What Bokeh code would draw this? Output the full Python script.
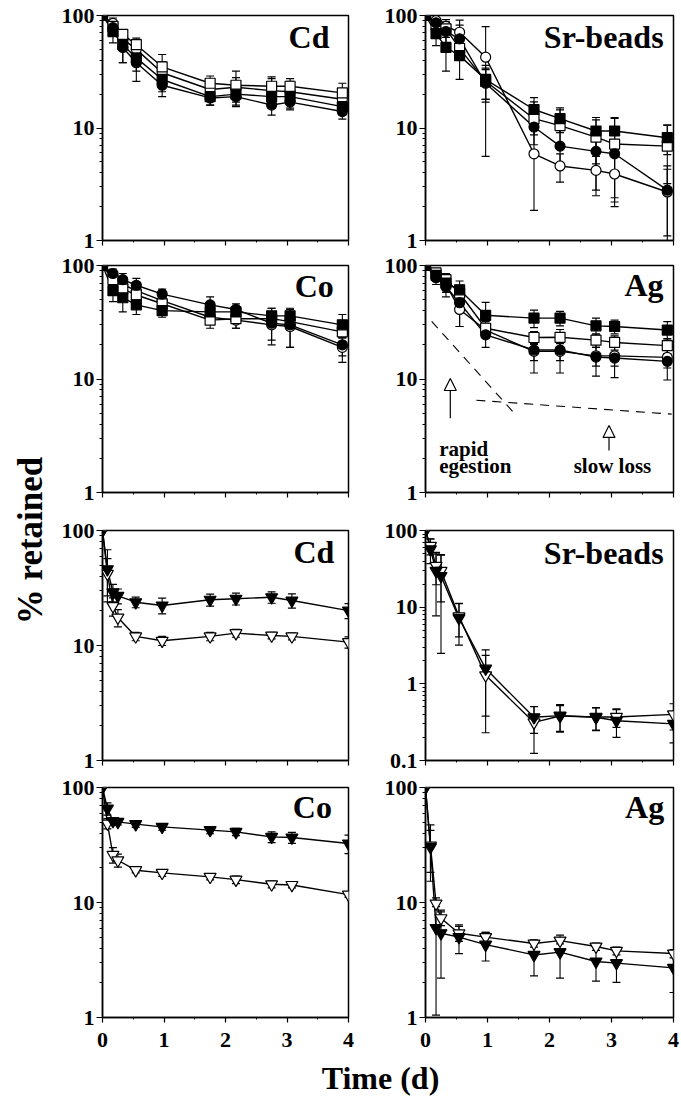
import math
from bokeh.plotting import figure
from bokeh.models import (FixedTicker, Whisker, TeeHead, ColumnDataSource, Label,
                          Arrow, NormalHead, Range1d)
from bokeh.layouts import row, column
from bokeh.embed import file_html
from bokeh.resources import INLINE

# ---------------- data ----------------
t_top = [0, 0.17, 0.33, 0.55, 0.97, 1.75, 2.17, 2.75, 3.05, 3.9]
t_bot = [0, 0.08, 0.17, 0.25, 0.54, 0.97, 1.75, 2.17, 2.75, 3.08, 4.0]

# top-left: Cd (four treatments)
cd1_os = [100, 80, 68, 55, 35, 25, 24, 23.5, 23.5, 20.5]
cd1_os_sd = [0, 8, 6, 8, 10, 4, 8, 5, 4, 4.5]
cd1_oc = [100, 85, 62, 50, 31, 22, 23, 21.5, 21, 18]
cd1_oc_sd = [0, 10, 10, 9, 8, 4, 5, 6, 5, 4]
cd1_fs = [100, 72, 55, 42, 27, 19, 20, 19, 19, 15.5]
cd1_fs_sd = [0, 15, 17, 10, 6, 3, 3, 4, 4, 2.5]
cd1_fc = [100, 78, 52, 38, 24, 18.5, 19, 16, 17, 14]
cd1_fc_sd = [0, 12, 14, 12, 5, 2.5, 3.5, 3, 2.5, 2]

# top-right: Sr-beads
sr1_fs = [100, 69, 52, 44, 27, 14.6, 12.1, 9.4, 9.4, 8.2]
sr1_fs_sd = [0, 15, 20, 17, 9, 4, 3, 3, 3, 2.4]
sr1_os = [100, 82, 76, 51, 26, 12.1, 10.5, 8.3, 7.2, 6.9]
sr1_os_sd = [0, 10, 12, 8, 8, 5, 4, 3.5, 5, 3.7]
sr1_fc = [100, 86, 72, 62, 25, 10.2, 6.9, 6.2, 5.9, 2.8]
sr1_fc_sd = [0, 8, 15, 20, 8, 1.5, 2.6, 3.7, 3.5, 1.8]
sr1_oc = [100, 90, 80, 71, 42.6, 5.9, 4.6, 4.2, 3.9, 2.7]
sr1_oc_sd = [0, 10, 12, 20, 37, 4.05, 1.3, 1.4, 1.9, 1.6]

# row 2 left: Co
co1_fc = [100, 85, 75, 67, 56, 45, 41, 31, 30, 20]
co1_fc_sd = [0, 8, 10, 10, 6, 8, 5, 11, 11, 4]
co1_oc = [100, 80, 68, 60, 49, 35, 33, 30, 29, 19]
co1_oc_sd = [0, 10, 8, 8, 6, 4, 5, 8, 10, 5]
co1_fs = [100, 60, 52, 45, 40, 39, 39, 36, 36, 30]
co1_fs_sd = [0, 12, 13, 8, 5, 5, 3, 6, 6, 7]
co1_os = [100, 75, 62, 55, 46, 33, 34, 34, 32, 26]
co1_os_sd = [0, 10, 12, 9, 5, 5, 6, 5, 5, 3]

# row 2 right: Ag
ag1_fs = [100, 82, 70, 61, 36.4, 34.4, 34.4, 29.4, 29, 27]
ag1_fs_sd = [0, 8, 10, 12, 11, 6, 5, 5, 4, 5]
ag1_os = [100, 86, 75, 57, 28, 23.2, 23.3, 22, 21, 19.7]
ag1_os_sd = [0, 8, 10, 10, 4, 3, 4, 3, 3, 3]
ag1_fc = [100, 78, 65, 47, 24.5, 18, 18, 15.6, 15.3, 14.3]
ag1_fc_sd = [0, 10, 12, 18, 5.5, 6.7, 6.7, 5, 5, 4.5]
ag1_oc = [100, 84, 68, 41, 27, 17.5, 17.5, 16, 16, 15.5]
ag1_oc_sd = [0, 9, 10, 12, 4, 3, 3, 3, 3, 3]

# Ag annotation: two loss components and arrows
dash1_t = [0.1, 1.46]
dash1_y = [32.2, 4.8]
dash2_t = [0.82, 3.97]
dash2_y = [6.5, 4.9]
arrow1_t, arrow1_y0, arrow1_y1 = 0.40, 4.5, 10.1
arrow2_t, arrow2_y0, arrow2_y1 = 2.96, 2.35, 3.9

# row 3 left: Cd
cd2_fT = [100, 46, 29, 27, 23.8, 22.3, 25, 25.5, 26.3, 24.6, 20.1]
cd2_fT_sd = [0, 22, 5, 4, 2.5, 3.5, 3, 3, 3, 3.5, 3]
cd2_oT = [100, 42, 22, 17.5, 12, 11, 12, 12.8, 12.2, 12, 10.7]
cd2_oT_sd = [0, 15, 4, 3, 1, 1, 1, 1, 0.8, 0.8, 1.2]

# row 3 right: Sr-beads
sr2_fT = [100, 57, 29.7, 25.5, 7.2, 1.58, 0.366, 0.385, 0.366, 0.33, 0.3]
sr2_fT_sd = [0, 20, 22, 23, 4, 1.2, 0.14, 0.15, 0.12, 0.13, 0.13]
sr2_oT = [100, 63, 34.6, 29.7, 7.6, 1.29, 0.314, 0.38, 0.37, 0.37, 0.4]
sr2_oT_sd = [0, 15, 15, 18, 3.5, 1.06, 0.19, 0.14, 0.12, 0.1, 0.15]

# row 4 left: Co
co2_fT = [100, 65.6, 51, 50.2, 48, 45.5, 42.6, 41.1, 37.2, 36.7, 32.6]
co2_fT_sd = [0, 8, 3, 3, 3, 3, 3, 3, 4, 4, 6]
co2_oT = [100, 48.6, 26, 23.3, 19.1, 18.1, 16.7, 15.8, 14.4, 14.2, 11.7]
co2_oT_sd = [0, 5, 4, 3, 1, 1.2, 1, 1.2, 1, 0.8, 0.6]

# row 4 right: Ag
ag2_fT = [100, 30.3, 6.0, 5.4, 5.0, 4.3, 3.5, 3.7, 3.07, 2.97, 2.7]
ag2_fT_sd = [0, 12, 4.95, 3.2, 1.4, 1.2, 1.2, 1.5, 1.0, 0.95, 1.05]
ag2_oT = [100, 31.3, 9.8, 7.3, 5.4, 5.0, 4.4, 4.66, 4.14, 3.8, 3.6]
ag2_oT_sd = [0, 16, 0.6, 1.0, 0.8, 0.5, 0.3, 0.3, 0.3, 0.3, 0.3]

x_ticks = [0, 1, 2, 3, 4]
x_tick_labels = ["0", "1", "2", "3", "4"]

# ---------------- styling ----------------
FONT = "Liberation Serif"
STYLE = {
    "fs": ("square", "black", 10),
    "os": ("square", "white", 10),
    "fc": ("circle", "black", 10),
    "oc": ("circle", "white", 10),
    "fT": ("inverted_triangle", "black", 12),
    "oT": ("inverted_triangle", "white", 12),
}

LABEL_W = 56
LEFT_W, RIGHT_W = 304, 321
LEFT_BL, LEFT_BR = 46, 12
RIGHT_BL, RIGHT_BR = 65, 8


def make_panel(col, height, bt, bb, ymin, bottom_labels, title, title_x, title_y,
               t, series):
    w = LEFT_W if col == 0 else RIGHT_W
    bl = LEFT_BL if col == 0 else RIGHT_BL
    br = LEFT_BR if col == 0 else RIGHT_BR
    p = figure(width=w, height=height, x_range=Range1d(0, 4), y_range=Range1d(ymin, 100),
               y_axis_type="log", output_backend="svg", toolbar_location=None,
               min_border_left=bl, min_border_right=br, min_border_top=bt,
               min_border_bottom=bb)
    p.grid.visible = False
    p.outline_line_color = "black"
    p.outline_line_width = 1.5
    p.background_fill_color = "white"

    # y axis
    yt = [v for v in [0.1, 1, 10, 100] if v >= ymin]
    ym = []
    for dec in [0.1, 1, 10]:
        if dec >= ymin:
            ym += [dec * k for k in range(2, 10)]
    p.yaxis.ticker = FixedTicker(ticks=yt, minor_ticks=ym)
    p.yaxis.major_label_overrides = {v: ("%g" % v) for v in yt}
    p.yaxis.major_label_text_font = FONT
    p.yaxis.major_label_text_font_style = "bold"
    p.yaxis.major_label_text_font_size = "22px"
    p.yaxis.major_label_text_color = "black"
    p.yaxis.major_tick_out = 6
    p.yaxis.major_tick_in = 0
    p.yaxis.minor_tick_out = 3
    p.yaxis.minor_tick_in = 0
    p.yaxis.major_label_standoff = 2
    p.yaxis.axis_line_width = 1.5
    p.yaxis.major_tick_line_width = 1.2

    # x axis
    p.xaxis.ticker = FixedTicker(ticks=x_ticks, minor_ticks=[0.5, 1.5, 2.5, 3.5])
    p.xaxis.major_tick_out = 5
    p.xaxis.major_tick_in = 0
    p.xaxis.minor_tick_out = 2
    p.xaxis.minor_tick_in = 0
    p.xaxis.axis_line_width = 1.5
    p.xaxis.major_tick_line_width = 1.2
    if bottom_labels:
        p.xaxis.major_label_overrides = {x: s for x, s in zip(x_ticks, x_tick_labels)}
        p.xaxis.major_label_text_font = FONT
        p.xaxis.major_label_text_font_style = "bold"
        p.xaxis.major_label_text_font_size = "22px"
        p.xaxis.major_label_text_color = "black"
        p.xaxis.major_label_standoff = 10
    else:
        p.xaxis.major_label_overrides = {x: "" for x in x_ticks}
        p.xaxis.major_label_text_font_size = "0px"
        p.xaxis.major_label_standoff = 0

    # connecting lines
    for key, v, sd in series:
        p.line(t, v, line_color="black", line_width=1.4)
    # error bars
    for key, v, sd in series:
        idx = [i for i in range(len(t)) if sd[i] > 0]
        src = ColumnDataSource(dict(
            x=[t[i] for i in idx],
            lo=[max(v[i] - sd[i], ymin * 0.01) for i in idx],
            hi=[v[i] + sd[i] for i in idx]))
        p.add_layout(Whisker(source=src, base="x", lower="lo", upper="hi",
                             line_color="black", line_width=1.1,
                             upper_head=TeeHead(size=8, line_color="black", line_width=1.2),
                             lower_head=TeeHead(size=8, line_color="black", line_width=1.2)))
    # markers
    for key, v, sd in series:
        marker, fill, size = STYLE[key]
        p.scatter(t, v, marker=marker, size=size, fill_color=fill,
                  line_color="black", line_width=1.2)

    p.add_layout(Label(x=title_x, y=title_y, text=title, text_align="right",
                       text_baseline="alphabetic", text_font=FONT,
                       text_font_style="bold", text_font_size="32px",
                       text_color="black"))
    return p


H1, H2, H3, H4 = 253, 265, 257, 284

p1 = make_panel(0, H1, 15, 13, 1, False, "Cd", 3.69, 64, t_top,
                [("oc", cd1_oc, cd1_oc_sd), ("os", cd1_os, cd1_os_sd),
                 ("fc", cd1_fc, cd1_fc_sd), ("fs", cd1_fs, cd1_fs_sd)])
p2 = make_panel(1, H1, 15, 13, 1, False, "Sr-beads", 3.84, 64, t_top,
                [("oc", sr1_oc, sr1_oc_sd), ("os", sr1_os, sr1_os_sd),
                 ("fc", sr1_fc, sr1_fc_sd), ("fs", sr1_fs, sr1_fs_sd)])
p3 = make_panel(0, H2, 12, 26, 1, False, "Co", 3.76, 66, t_top,
                [("oc", co1_oc, co1_oc_sd), ("os", co1_os, co1_os_sd),
                 ("fc", co1_fc, co1_fc_sd), ("fs", co1_fs, co1_fs_sd)])
p4 = make_panel(1, H2, 12, 26, 1, False, "Ag", 3.84, 67, t_top,
                [("oc", ag1_oc, ag1_oc_sd), ("os", ag1_os, ag1_os_sd),
                 ("fc", ag1_fc, ag1_fc_sd), ("fs", ag1_fs, ag1_fs_sd)])

# Ag annotations
p4.line(dash1_t, dash1_y, line_color="black", line_width=1.1, line_dash="9 7")
p4.line(dash2_t, dash2_y, line_color="black", line_width=1.1, line_dash="9 7")
for at, a0, a1 in [(arrow1_t, arrow1_y0, arrow1_y1), (arrow2_t, arrow2_y0, arrow2_y1)]:
    p4.add_layout(Arrow(end=NormalHead(size=12, fill_color="white", line_color="black",
                                       line_width=1.2),
                        x_start=at, y_start=a0, x_end=at, y_end=a1,
                        line_color="black", line_width=1.2))
for tx, ty, txt in [(0.22, 2.42, "rapid"), (0.22, 1.72, "egestion"), (2.39, 1.72, "slow loss")]:
    p4.add_layout(Label(x=tx, y=ty, text=txt, text_align="left", text_baseline="alphabetic",
                        text_font=FONT, text_font_style="bold", text_font_size="21px",
                        text_color="black"))

p5 = make_panel(0, H3, 12, 15, 1, False, "Cd", 3.77, 65, t_bot,
                [("oT", cd2_oT, cd2_oT_sd), ("fT", cd2_fT, cd2_fT_sd)])
p6 = make_panel(1, H3, 12, 15, 0.1, False, "Sr-beads", 3.84, 51, t_bot,
                [("oT", sr2_oT, sr2_oT_sd), ("fT", sr2_fT, sr2_fT_sd)])
p7 = make_panel(0, H4, 12, 42, 1, True, "Co", 3.73, 68, t_bot,
                [("oT", co2_oT, co2_oT_sd), ("fT", co2_fT, co2_fT_sd)])
p8 = make_panel(1, H4, 12, 42, 1, True, "Ag", 3.85, 68, t_bot,
                [("oT", ag2_oT, ag2_oT_sd), ("fT", ag2_fT, ag2_fT_sd)])

TOTAL_H = 1096
TIME_H = TOTAL_H - (H1 + H2 + H3 + H4)

time_fig = figure(width=LEFT_W + RIGHT_W, height=TIME_H, x_range=Range1d(0, LEFT_W + RIGHT_W),
                  y_range=Range1d(0, TIME_H), x_axis_type=None, y_axis_type=None,
                  output_backend="svg", toolbar_location=None, min_border=0)
time_fig.grid.visible = False
time_fig.outline_line_color = None
time_fig.add_layout(Label(x=380 - LABEL_W, y=19, text="Time (d)", text_align="center",
                          text_baseline="alphabetic", text_font=FONT,
                          text_font_style="bold", text_font_size="32px", text_color="black"))

label_fig = figure(width=LABEL_W, height=TOTAL_H, x_range=Range1d(0, LABEL_W),
                   y_range=Range1d(0, TOTAL_H), x_axis_type=None, y_axis_type=None,
                   output_backend="svg", toolbar_location=None, min_border=0)
label_fig.grid.visible = False
label_fig.outline_line_color = None
label_fig.add_layout(Label(x=30, y=TOTAL_H - 540, text="% retained", angle=math.pi / 2,
                           text_align="center", text_baseline="middle", text_font=FONT,
                           text_font_style="bold", text_font_size="35px", text_color="black"))

layout = row(label_fig, column(row(p1, p2), row(p3, p4), row(p5, p6), row(p7, p8), time_fig))

open("out.html", "w").write(file_html(layout, INLINE))
